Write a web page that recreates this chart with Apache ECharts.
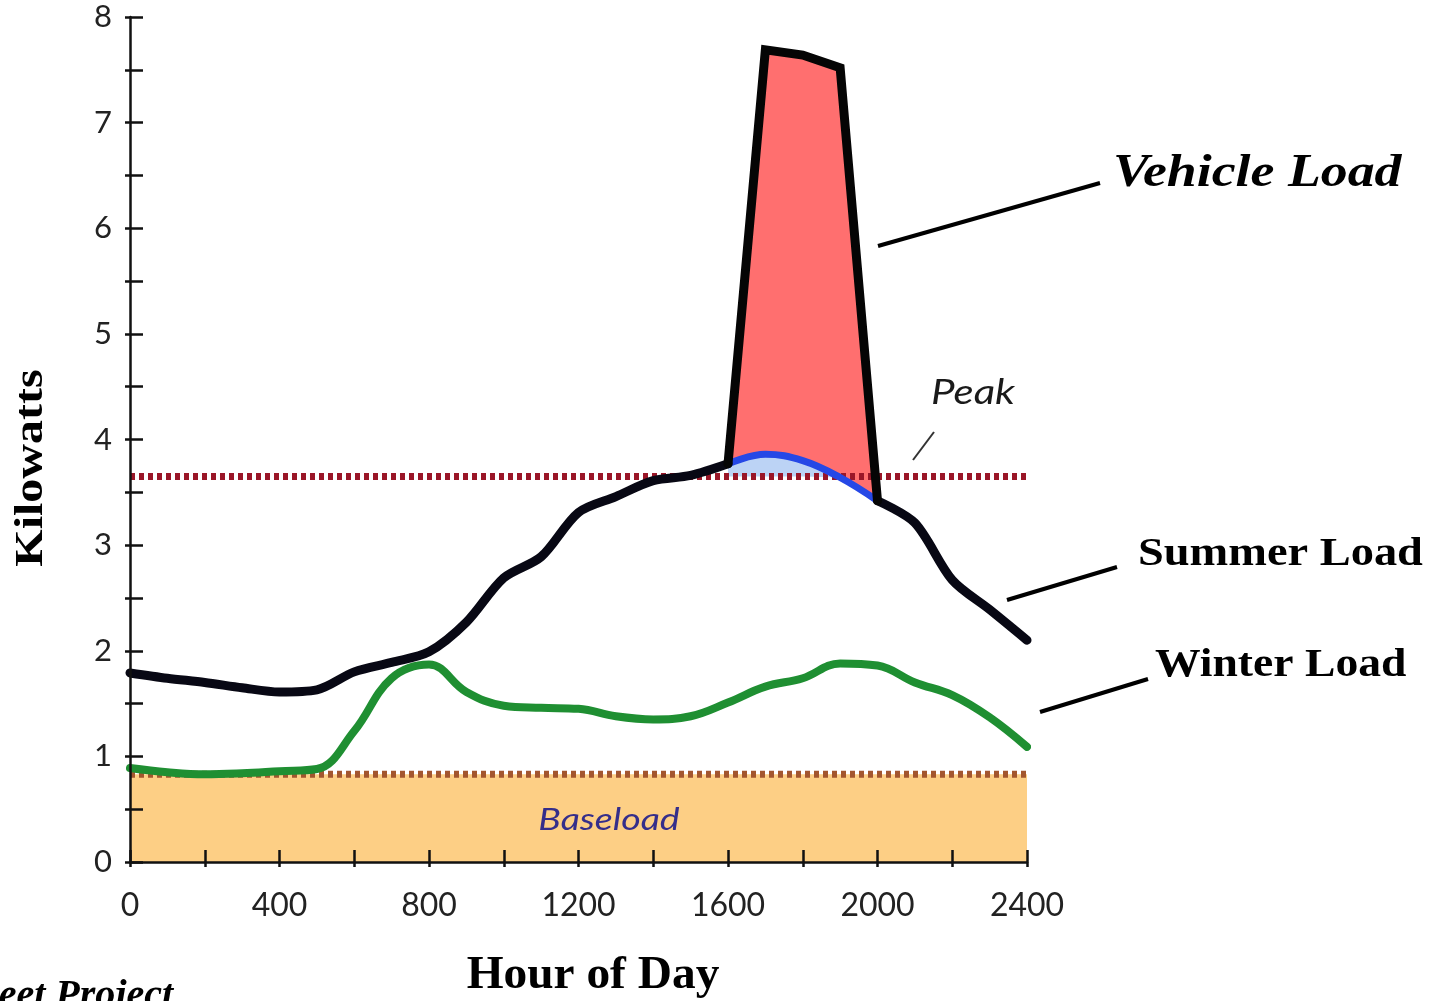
<!DOCTYPE html>
<html>
<head>
<meta charset="utf-8">
<style>
html,body{margin:0;padding:0;background:#fff;}
#chart{width:1441px;height:1001px;}
</style>
<script src="https://cdn.jsdelivr.net/npm/echarts@6/dist/echarts.min.js"></script>
</head>
<body>
<div id="chart"></div>
<script>
// ---- data ----
const hours = [0,100,200,300,400,500,600,700,800,900,1000,1100,1200,1300,1400,1500,1600,1700,1800,1900,2000,2100,2200,2300,2400];
const summerLoad = [1.79,1.74,1.70,1.65,1.61,1.63,1.80,1.89,1.99,2.27,2.69,2.89,3.31,3.46,3.61,3.66,3.77,3.86,3.80,3.64,3.42,3.21,2.67,2.39,2.10];
const winterLoad = [0.89,0.85,0.83,0.84,0.86,0.88,1.24,1.74,1.87,1.61,1.48,1.46,1.45,1.38,1.35,1.38,1.51,1.66,1.74,1.88,1.86,1.70,1.58,1.37,1.09];
const vehicleLoad = [null,null,null,null,null,null,null,null,null,null,null,null,null,null,null,null,3.77,7.69,7.64,7.52,3.42,null,null,null,null];
const peakLevel = 3.65;
const baseLevel = 0.83;
const yTicks = [0,1,2,3,4,5,6,7,8];
const xTicks = [0,400,800,1200,1600,2000,2400];

// ---- derived series ----
const pairs = (arr) => hours.map((h,i) => [h, arr[i]]);
const vIdx = vehicleLoad.map((v,i)=> v==null?null:i).filter(i=>i!=null);
const vFirst = vIdx[0], vLast = vIdx[vIdx.length-1];
const summerBlack = pairs(summerLoad.map((v,i)=> (i>vFirst && i<vLast) ? null : v));
const summerBlue = pairs(summerLoad.map((v,i)=> (i>=vFirst && i<=vLast) ? v : null));
const maskData = pairs(summerLoad.map((v,i)=> (i>=vFirst-1 && i<=vLast+1) ? Math.min(v, peakLevel) : null));
const vehicleData = pairs(vehicleLoad);
const winterData = pairs(winterLoad);
const xMin = hours[0], xMax = hours[hours.length-1];

const tickFont = 'Lato, "Noto Sans", sans-serif';
const serif = '"Liberation Serif", "DejaVu Serif", serif';

const chart = echarts.init(document.getElementById('chart'));
const option = {
  backgroundColor: '#ffffff',
  animation: false,
  grid: [
    {left:130, right:414, top:17, bottom:139},
    {left:130, right:414, top:17, bottom:139}
  ],
  xAxis: [
    {type:'value', gridIndex:0, min:0, max:2400, interval:200, z:20,
     axisLine:{show:true, onZero:false, lineStyle:{color:'#111', width:2.5}},
     axisTick:{show:true, inside:true, length:12, lineStyle:{color:'#111', width:2.5}},
     splitLine:{show:false},
     axisLabel:{show:true, margin:28, fontFamily:tickFont, fontSize:32, color:'#222',
       formatter:(v)=> xTicks.includes(v) ? String(v) : ''}},
    {type:'value', gridIndex:1, min:0, max:2400, interval:200, z:20,
     axisLine:{show:false}, splitLine:{show:false}, axisLabel:{show:false},
     axisTick:{show:true, inside:false, length:5, lineStyle:{color:'#111', width:2.5}}}
  ],
  yAxis: [
    {type:'value', gridIndex:0, min:0, max:8, interval:0.5, z:20,
     axisLine:{show:true, onZero:false, lineStyle:{color:'#111', width:2.5}},
     axisTick:{show:true, inside:true, length:13, lineStyle:{color:'#111', width:2.5}},
     splitLine:{show:false},
     axisLabel:{show:true, margin:18, fontFamily:tickFont, fontSize:31, color:'#222',
       formatter:(v)=> yTicks.includes(v) ? String(v) : ''}},
    {type:'value', gridIndex:1, min:0, max:8, interval:0.5, z:20,
     axisLine:{show:false}, splitLine:{show:false}, axisLabel:{show:false},
     axisTick:{show:true, inside:false, length:5, lineStyle:{color:'#111', width:2.5}}}
  ],
  series: [
    {type:'line', name:'vehicleFill', data:vehicleData, showSymbol:false, smooth:false,
     lineStyle:{width:0}, areaStyle:{color:'#ff6f6f', opacity:1}, z:2},
    {type:'line', name:'summerFill', data:summerBlue, showSymbol:false, smooth:0.4,
     lineStyle:{width:0}, areaStyle:{color:'#bcd3f5', opacity:1}, z:2},
    {type:'line', name:'mask', data:maskData, showSymbol:false, smooth:false,
     lineStyle:{width:0}, areaStyle:{color:'#ffffff', opacity:1}, z:2},
    {type:'line', name:'baseFill', data:[[xMin,baseLevel],[xMax,baseLevel]], showSymbol:false,
     lineStyle:{width:0}, areaStyle:{color:'#fdcf85', opacity:1}, z:3},
    {type:'line', name:'Peak', data:[[xMin,peakLevel],[xMax,peakLevel]], showSymbol:false,
     lineStyle:{color:'#9a1628', width:7, type:[5,4], cap:'butt'}, z:4},
    {type:'line', name:'Baseload', data:[[xMin,baseLevel],[xMax,baseLevel]], showSymbol:false,
     lineStyle:{color:'#a3562e', width:7, type:[5,4], cap:'butt'}, z:4},
    {type:'line', name:'Winter Load', data:winterData, showSymbol:false, smooth:0.4,
     lineStyle:{color:'#1f8f32', width:8, cap:'round'}, z:5},
    {type:'line', name:'Summer Load (peak)', data:summerBlue, showSymbol:false, smooth:0.4,
     lineStyle:{color:'#2648e6', width:7, cap:'round'}, z:5},
    {type:'line', name:'Summer Load', data:summerBlack, showSymbol:false, smooth:0.3, connectNulls:false,
     lineStyle:{color:'#080814', width:9, cap:'round', join:'round'}, z:6},
    {type:'line', name:'Vehicle Load', data:vehicleData, showSymbol:false, smooth:false,
     lineStyle:{color:'#050505', width:9, cap:'round', join:'miter'}, z:7}
  ],
  graphic: [
    {type:'line', shape:{x1:878,y1:246,x2:1100,y2:183}, style:{stroke:'#000', lineWidth:4}, z:50},
    {type:'line', shape:{x1:1007,y1:600,x2:1117,y2:567}, style:{stroke:'#000', lineWidth:4}, z:50},
    {type:'line', shape:{x1:1040,y1:712,x2:1148,y2:679}, style:{stroke:'#000', lineWidth:4}, z:50},
    {type:'line', shape:{x1:913,y1:460,x2:934,y2:432}, style:{stroke:'#333', lineWidth:2}, z:50},
    {type:'text', x:1113, y:174, scaleX:1.17, z:50, style:{text:'Vehicle Load', font:'italic bold 46px ' + serif, fill:'#000',
      textVerticalAlign:'middle', textAlign:'left', shadowColor:'rgba(0,0,0,0.35)', shadowBlur:3, shadowOffsetX:2, shadowOffsetY:2}},
    {type:'text', x:1138, y:555, scaleX:1.19, z:50, style:{text:'Summer Load', font:'bold 39px ' + serif, fill:'#000',
      textVerticalAlign:'middle', textAlign:'left', shadowColor:'rgba(0,0,0,0.3)', shadowBlur:3, shadowOffsetX:2, shadowOffsetY:2}},
    {type:'text', x:1155, y:666, scaleX:1.17, z:50, style:{text:'Winter Load', font:'bold 39px ' + serif, fill:'#000',
      textVerticalAlign:'middle', textAlign:'left', shadowColor:'rgba(0,0,0,0.3)', shadowBlur:3, shadowOffsetX:2, shadowOffsetY:2}},
    {type:'text', x:973, y:393, scaleX:1.2, z:50, style:{text:'Peak', font:'italic 35px ' + tickFont, fill:'#1a1a1a',
      textVerticalAlign:'middle', textAlign:'center'}},
    {type:'text', x:609, y:820, scaleX:1.25, z:50, style:{text:'Baseload', font:'italic 30px ' + tickFont, fill:'#352e8a',
      textVerticalAlign:'middle', textAlign:'center'}},
    {type:'text', x:32, y:468, rotation:Math.PI/2, scaleX:1.2, z:50, style:{text:'Kilowatts', font:'bold 40px ' + serif, fill:'#000',
      textVerticalAlign:'middle', textAlign:'center'}},
    {type:'text', x:593, y:976, scaleX:1.03, z:50, style:{text:'Hour of Day', font:'bold 46px ' + serif, fill:'#000',
      textVerticalAlign:'middle', textAlign:'center'}},
    {type:'text', x:173, y:977, z:50, style:{text:'Fleet Project', font:'italic bold 40px ' + serif, fill:'#000',
      textVerticalAlign:'top', textAlign:'right', shadowColor:'rgba(0,0,0,0.3)', shadowBlur:3, shadowOffsetX:2, shadowOffsetY:2}}
  ]
};
chart.setOption(option);
</script>
</body>
</html>
